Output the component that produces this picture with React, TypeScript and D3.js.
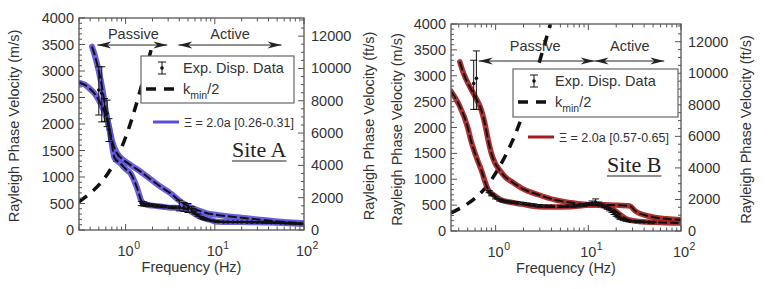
import * as d3 from "d3";
import React, { useEffect, useRef } from "react";

type Pt = [number, number];
type Obs = [number, number, number, number]; // freq, velocity, low, high

const FT = 3.28084;

// ---- Site A ----
const siteAMode1: Pt[] = [
    [0.3, 2780], [0.35, 2740], [0.4, 2660], [0.45, 2570], [0.5, 2450], [0.55, 2310],
    [0.6, 2150], [0.65, 1950], [0.7, 1620], [0.75, 1360], [0.87, 1260], [1.0, 1150],
    [1.13, 1075], [1.34, 800], [1.52, 534], [1.7, 480], [2.0, 460], [2.6, 440],
    [3.2, 420], [4.1, 415], [5.0, 380], [6.0, 300], [7.0, 240], [8.9, 190],
    [10.6, 157], [20, 150], [40, 142], [100, 113],
];
const siteAMode2: Pt[] = [
    [0.42, 3460], [0.45, 3300], [0.5, 3000], [0.55, 2650], [0.6, 2250], [0.65, 1950],
    [0.7, 1700], [0.8, 1450], [0.9, 1350], [1.0, 1290], [1.2, 1200], [1.5, 1090],
    [2.0, 930], [2.5, 810], [3.2, 690], [4.1, 540], [5.0, 450], [6.3, 380],
    [8, 320], [10.6, 285], [20, 230], [35, 190], [60, 150], [100, 128],
];
const siteAObs: Obs[] = [
    [0.5, 2640, 2170, 3080], [0.54, 2580, 2040, 3080], [0.58, 2300, 2050, 2480],
    [0.62, 2200, 1950, 2450], [0.65, 1900, 1670, 2100],
    [1.5, 500, 460, 540], [1.6, 490, 450, 530], [1.7, 480, 450, 510], [1.8, 475, 450, 500],
    [2.0, 465, 440, 490], [2.2, 455, 430, 480], [2.5, 445, 420, 470], [2.8, 440, 420, 460],
    [3.2, 430, 410, 450], [3.6, 425, 400, 450], [4.0, 430, 360, 560], [4.5, 420, 350, 520],
    [5.0, 410, 330, 500], [5.5, 390, 340, 440], [6.0, 330, 300, 360], [6.5, 280, 260, 300],
    [7.0, 240, 225, 255], [7.5, 215, 200, 230], [8.0, 200, 190, 210], [9.0, 180, 170, 190],
    [10, 165, 155, 175], [11, 155, 145, 165], [12.5, 152, 142, 162], [14, 150, 140, 160],
    [16, 150, 140, 160], [18, 150, 140, 160], [20, 150, 140, 160], [23, 148, 138, 158],
    [26, 148, 138, 158], [30, 146, 136, 156], [34, 144, 134, 154], [38, 142, 132, 152],
    [43, 140, 130, 150], [48, 137, 127, 147], [55, 133, 123, 143], [62, 130, 120, 140],
    [70, 126, 116, 136], [80, 122, 112, 132], [90, 118, 108, 128],
];
const siteAKmin: Pt[] = [[0.3, 530], [1.0, 1750], [2.0, 3500]];

// ---- Site B ----
const siteBMode1: Pt[] = [
    [0.33, 2700], [0.4, 2450], [0.5, 2000], [0.54, 1760], [0.6, 1500], [0.7, 1180],
    [0.83, 800], [0.95, 700], [1.15, 600], [1.5, 550], [1.9, 520], [2.9, 470],
    [4.0, 465], [6.6, 470], [10, 500], [12, 510], [15, 505], [20, 500], [28, 485],
    [32, 390], [45, 285], [70, 235], [100, 215],
];
const siteBMode2: Pt[] = [
    [0.41, 3270], [0.45, 3050], [0.54, 2750], [0.6, 2600], [0.7, 2340], [0.76, 2100],
    [0.83, 1760], [0.9, 1500], [0.98, 1320], [1.1, 1180], [1.27, 1045], [1.5, 950],
    [1.9, 830], [2.9, 700], [4.4, 600], [6.6, 545], [9, 515], [12, 500], [15, 480],
    [18, 430], [22, 320], [26, 230], [35, 185], [60, 165], [100, 155],
];
const siteBObs: Obs[] = [
    [0.58, 2850, 2350, 3300], [0.62, 2950, 2350, 3480],
    [0.85, 760, 740, 780], [0.9, 700, 680, 720], [1.0, 640, 620, 660], [1.1, 600, 580, 620],
    [1.2, 580, 560, 600], [1.35, 565, 545, 585], [1.5, 555, 535, 575], [1.7, 545, 525, 565],
    [2.0, 530, 510, 550], [2.3, 515, 495, 535], [2.6, 500, 480, 520], [3.0, 490, 470, 510],
    [3.5, 480, 460, 500], [4.0, 475, 455, 495], [5.0, 475, 455, 495], [6.0, 480, 460, 500],
    [7.0, 485, 465, 505], [8.0, 490, 470, 510], [9.0, 500, 480, 520], [10, 520, 495, 545],
    [11, 540, 500, 580], [12, 555, 490, 620], [13, 530, 500, 560], [14, 500, 480, 520],
    [15, 470, 450, 490], [16, 440, 420, 460], [17, 410, 390, 430], [18, 380, 360, 400],
    [19, 340, 320, 360], [20, 300, 285, 315], [21, 270, 255, 285], [22, 240, 225, 255],
    [24, 215, 200, 230], [26, 200, 190, 210], [28, 190, 180, 200], [32, 185, 175, 195],
    [36, 180, 170, 190], [40, 175, 165, 185], [45, 172, 162, 182], [50, 170, 160, 180],
];
const siteBKmin: Pt[] = [[0.33, 350], [0.94, 1040], [1.56, 1790], [3.9, 4000]];

interface PanelCfg {
    id: string;
    left: number; right: number; top: number; bottom: number;
    fMin: number;
    modes: Pt[][];
    obs: Obs[];
    kmin: Pt[];
    color: string;
    bandWidth: number;
    leftTitleX: number; rightTitleX: number;
    arrowV: number; textDy: number;
    passive: [number, number]; active: [number, number];
    passiveText: number; activeText: number;
    box: [number, number, number, number];
    modelLegend: [number, number];
    modelLabel: string;
    site: string; siteX: number; siteY: number;
}

const TEXT = "#333";
const AXIS = "#555";
const FONT = "'Liberation Sans', Arial, sans-serif";

const Panel: React.FC<{ cfg: PanelCfg }> = ({ cfg }) => {
    const ref = useRef<SVGGElement>(null);

    useEffect(() => {
        if (!ref.current) return;
        const g = d3.select(ref.current);
        g.selectAll("*").remove();

        const x = d3.scaleLog().domain([cfg.fMin, 100]).range([cfg.left, cfg.right]);
        const y = d3.scaleLinear().domain([0, 4000]).range([cfg.bottom, cfg.top]);
        const yFt = d3.scaleLinear().domain([0, 4000 * FT]).range([cfg.bottom, cfg.top]);

        const clipId = `clip-${cfg.id}`;
        g.append("clipPath").attr("id", clipId).append("rect")
            .attr("x", cfg.left).attr("y", cfg.top)
            .attr("width", cfg.right - cfg.left).attr("height", cfg.bottom - cfg.top);
        const plot = g.append("g").attr("clip-path", `url(#${clipId})`);

        const line = d3.line<Pt>().x((d) => x(d[0])).y((d) => y(d[1])).curve(d3.curveMonotoneX);

        // k_min / 2 limit
        plot.append("path").attr("d", line(cfg.kmin))
            .attr("fill", "none").attr("stroke", "#111").attr("stroke-width", 3.5)
            .attr("stroke-dasharray", "10,8");

        // model bands + dashed overlay
        cfg.modes.forEach((m) => {
            plot.append("path").attr("d", line(m)).attr("fill", "none")
                .attr("stroke", cfg.color).attr("stroke-width", cfg.bandWidth)
                .attr("stroke-opacity", 0.9).attr("stroke-linecap", "round");
        });
        cfg.modes.forEach((m) => {
            plot.append("path").attr("d", line(m)).attr("fill", "none")
                .attr("stroke", "#111").attr("stroke-width", 2)
                .attr("stroke-dasharray", "9,3");
        });

        // experimental data
        const ob = plot.append("g").selectAll("g").data(cfg.obs).join("g");
        ob.append("line").attr("x1", (d) => x(d[0])).attr("x2", (d) => x(d[0]))
            .attr("y1", (d) => y(d[2])).attr("y2", (d) => y(d[3]))
            .attr("stroke", "#111").attr("stroke-width", 1);
        [2, 3].forEach((k) => {
            ob.append("line").attr("x1", (d) => x(d[0]) - 3.5).attr("x2", (d) => x(d[0]) + 3.5)
                .attr("y1", (d) => y(d[k])).attr("y2", (d) => y(d[k]))
                .attr("stroke", "#111").attr("stroke-width", 1);
        });
        ob.append("circle").attr("cx", (d) => x(d[0])).attr("cy", (d) => y(d[1]))
            .attr("r", 1.8).attr("fill", "#111");

        // frame
        g.append("rect").attr("x", cfg.left).attr("y", cfg.top)
            .attr("width", cfg.right - cfg.left).attr("height", cfg.bottom - cfg.top)
            .attr("fill", "none").attr("stroke", AXIS).attr("stroke-width", 1.3);

        // x ticks (log)
        const xt = x.ticks();
        const isMajor = (f: number) => Math.abs(Math.log10(f) - Math.round(Math.log10(f))) < 1e-6;
        xt.forEach((f) => {
            const len = isMajor(f) ? 6 : 3.5;
            g.append("line").attr("x1", x(f)).attr("x2", x(f))
                .attr("y1", cfg.bottom).attr("y2", cfg.bottom - len)
                .attr("stroke", AXIS).attr("stroke-width", 1);
            g.append("line").attr("x1", x(f)).attr("x2", x(f))
                .attr("y1", cfg.top).attr("y2", cfg.top + len)
                .attr("stroke", AXIS).attr("stroke-width", 1);
        });
        xt.filter(isMajor).forEach((f) => {
            const e = Math.round(Math.log10(f));
            g.append("text").attr("x", x(f)).attr("y", cfg.bottom + 26)
                .attr("text-anchor", "middle").attr("font-size", 14.5)
                .attr("font-family", FONT).attr("fill", TEXT).text("10");
            g.append("text").attr("x", x(f) + 8.5).attr("y", cfg.bottom + 19)
                .attr("font-size", 10.5).attr("font-family", FONT).attr("fill", TEXT).text(String(e));
        });

        // left y ticks
        d3.range(0, 4001, 100).forEach((v) => {
            const len = v % 500 === 0 ? 6 : 3;
            g.append("line").attr("x1", cfg.left).attr("x2", cfg.left + len)
                .attr("y1", y(v)).attr("y2", y(v)).attr("stroke", AXIS).attr("stroke-width", 1);
        });
        d3.range(0, 4001, 500).forEach((v) => {
            g.append("text").attr("x", cfg.left - 5).attr("y", y(v) + 5)
                .attr("text-anchor", "end").attr("font-size", 14.5)
                .attr("font-family", FONT).attr("fill", TEXT).text(v);
        });

        // right y ticks (ft/s)
        d3.range(0, 13001, 500).forEach((v) => {
            const len = v % 2000 === 0 ? 6 : 3;
            g.append("line").attr("x1", cfg.right).attr("x2", cfg.right - len)
                .attr("y1", yFt(v)).attr("y2", yFt(v)).attr("stroke", AXIS).attr("stroke-width", 1);
        });
        d3.range(0, 12001, 2000).forEach((v) => {
            g.append("text").attr("x", cfg.right + 7).attr("y", yFt(v) + 5)
                .attr("font-size", 14.5).attr("font-family", FONT).attr("fill", TEXT).text(v);
        });

        // axis titles
        const midY = (cfg.top + cfg.bottom) / 2 + 2;
        g.append("text").attr("transform", `translate(${cfg.leftTitleX},${midY}) rotate(-90)`)
            .attr("dy", "0.35em").attr("text-anchor", "middle").attr("font-size", 14.5)
            .attr("font-family", FONT).attr("fill", TEXT).text("Rayleigh Phase Velocity (m/s)");
        g.append("text").attr("transform", `translate(${cfg.rightTitleX},${midY}) rotate(-90)`)
            .attr("dy", "0.35em").attr("text-anchor", "middle").attr("font-size", 14.5)
            .attr("font-family", FONT).attr("fill", TEXT).text("Rayleigh Phase Velocity (ft/s)");
        g.append("text").attr("x", (cfg.left + cfg.right) / 2).attr("y", cfg.bottom + 42)
            .attr("text-anchor", "middle").attr("font-size", 14.5)
            .attr("font-family", FONT).attr("fill", TEXT).text("Frequency (Hz)");

        // passive / active arrows
        const ay = y(cfg.arrowV);
        const head = (px: number, dir: number) =>
            `M${px},${ay} L${px - dir * 14},${ay - 3.5} L${px - dir * 10},${ay} L${px - dir * 14},${ay + 3.5} Z`;
        [cfg.passive, cfg.active].forEach(([a, b]) => {
            g.append("line").attr("x1", x(a)).attr("x2", x(b)).attr("y1", ay).attr("y2", ay)
                .attr("stroke", "#222").attr("stroke-width", 1);
            g.append("path").attr("d", head(x(a), -1)).attr("fill", "#222");
            g.append("path").attr("d", head(x(b), 1)).attr("fill", "#222");
        });
        g.append("text").attr("x", x(cfg.passiveText)).attr("y", ay - cfg.textDy)
            .attr("text-anchor", "middle").attr("font-size", 14.5)
            .attr("font-family", FONT).attr("fill", TEXT).text("Passive");
        g.append("text").attr("x", x(cfg.activeText)).attr("y", ay - cfg.textDy)
            .attr("text-anchor", "middle").attr("font-size", 14.5)
            .attr("font-family", FONT).attr("fill", TEXT).text("Active");

        // legend box
        const [bx0, by0, bx1, by1] = cfg.box;
        g.append("rect").attr("x", bx0).attr("y", by0).attr("width", bx1 - bx0).attr("height", by1 - by0)
            .attr("fill", "#fff").attr("stroke", "#666").attr("stroke-width", 1.2);
        const sx = bx0 + 21, sy = by0 + 12;
        g.append("line").attr("x1", sx).attr("x2", sx).attr("y1", sy - 6).attr("y2", sy + 6)
            .attr("stroke", "#111").attr("stroke-width", 1);
        [-6, 6].forEach((o) => {
            g.append("line").attr("x1", sx - 4).attr("x2", sx + 4).attr("y1", sy + o).attr("y2", sy + o)
                .attr("stroke", "#111").attr("stroke-width", 1);
        });
        g.append("circle").attr("cx", sx).attr("cy", sy).attr("r", 1.8).attr("fill", "#111");
        g.append("text").attr("x", bx0 + 42).attr("y", sy + 5).attr("font-size", 14.5)
            .attr("font-family", FONT).attr("fill", TEXT).text("Exp. Disp. Data");
        const ky = by0 + 33;
        g.append("line").attr("x1", bx0 + 5).attr("x2", bx0 + 40).attr("y1", ky).attr("y2", ky)
            .attr("stroke", "#111").attr("stroke-width", 3.5).attr("stroke-dasharray", "10,8");
        const kt = g.append("text").attr("x", bx0 + 42).attr("y", ky + 5).attr("font-size", 14.5)
            .attr("font-family", FONT).attr("fill", TEXT);
        kt.append("tspan").text("k");
        kt.append("tspan").attr("dy", 5).attr("font-size", 10.5).text("min");
        kt.append("tspan").attr("dy", -5).text("/2");

        // model legend (outside the box)
        const [mx, my] = cfg.modelLegend;
        g.append("line").attr("x1", mx).attr("x2", mx + 26).attr("y1", my).attr("y2", my)
            .attr("stroke", cfg.color).attr("stroke-width", 3);
        g.append("text").attr("x", mx + 31).attr("y", my + 5).attr("font-size", 12.5)
            .attr("font-family", FONT).attr("fill", TEXT).text(cfg.modelLabel);

        // site label
        const st = g.append("text").attr("x", cfg.siteX).attr("y", cfg.siteY)
            .attr("font-size", 22).attr("font-family", "'Liberation Serif', 'Times New Roman', serif")
            .attr("fill", "#222").text(cfg.site);
        const w = (st.node() as SVGTextElement).getComputedTextLength();
        g.append("line").attr("x1", cfg.siteX).attr("x2", cfg.siteX + w)
            .attr("y1", cfg.siteY + 4).attr("y2", cfg.siteY + 4)
            .attr("stroke", "#222").attr("stroke-width", 1.2);
    }, [cfg]);

    return <g ref={ref} />;
};

const panelA: PanelCfg = {
    id: "a", left: 79, right: 304, top: 18, bottom: 230, fMin: 0.3,
    modes: [siteAMode1, siteAMode2], obs: siteAObs, kmin: siteAKmin,
    color: "#5a4fdc", bandWidth: 6,
    leftTitleX: 14, rightTitleX: 369,
    arrowV: 3490, textDy: 6,
    passive: [0.48, 2.93], active: [3.9, 56], passiveText: 1.22, activeText: 14.8,
    box: [141, 56, 294, 103],
    modelLegend: [153, 122], modelLabel: "\u039E = 2.0a [0.26-0.31]",
    site: "Site A", siteX: 232, siteY: 157,
};

const panelB: PanelCfg = {
    id: "b", left: 451, right: 681, top: 24, bottom: 231, fMin: 0.33,
    modes: [siteBMode1, siteBMode2], obs: siteBObs, kmin: siteBKmin,
    color: "#a31c1c", bandWidth: 5.5,
    leftTitleX: 397, rightTitleX: 746,
    arrowV: 3285, textDy: 10,
    passive: [0.657, 11.7], active: [11.7, 66], passiveText: 2.67, activeText: 28,
    box: [513, 69, 678, 117],
    modelLegend: [528, 137], modelLabel: "\u039E = 2.0a [0.57-0.65]",
    site: "Site B", siteX: 607, siteY: 172,
};

const App: React.FC = () => (
    <svg width={776} height={289} viewBox="0 0 776 289"
        style={{ position: "absolute", left: 0, top: 0, background: "#fff" }}>
        <Panel cfg={panelA} />
        <Panel cfg={panelB} />
    </svg>
);

export default App;
